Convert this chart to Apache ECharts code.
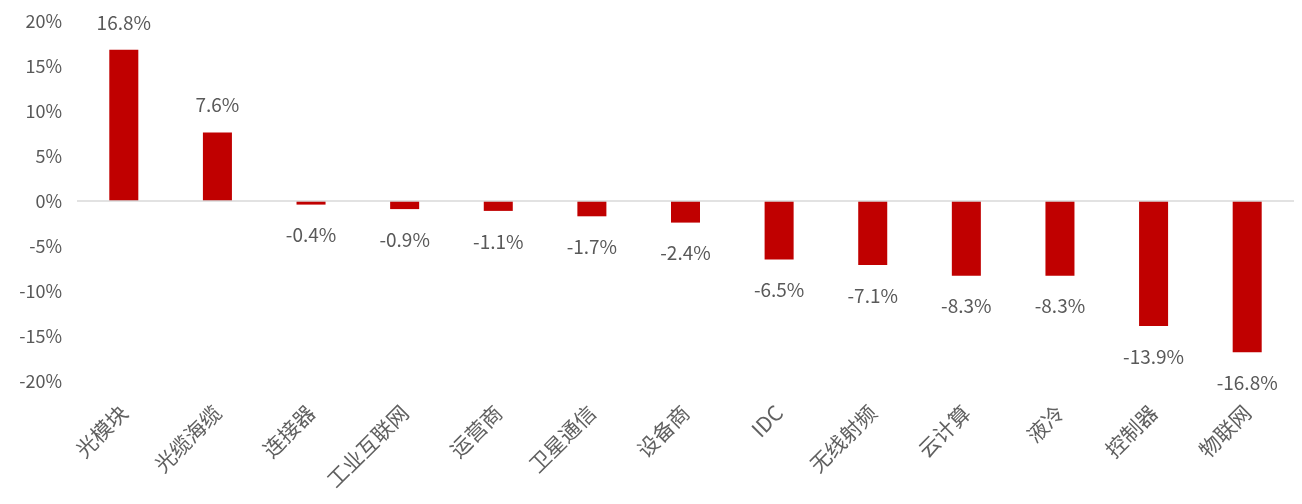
<!DOCTYPE html>
<html>
<head>
<meta charset="utf-8">
<script src="https://cdn.jsdelivr.net/npm/echarts@6/dist/echarts.min.js"></script>
<style>
html,body{margin:0;padding:0;background:#fff;}
#chart{width:1302px;height:504px;}
</style>
</head>
<body>
<div id="chart"></div>
<script>
var categories = ['光模块','光缆海缆','连接器','工业互联网','运营商','卫星通信','设备商','IDC','无线射频','云计算','液冷','控制器','物联网'];
var values = [16.8, 7.6, -0.4, -0.9, -1.1, -1.7, -2.4, -6.5, -7.1, -8.3, -8.3, -13.9, -16.8];
var yTicks = { min: -20, max: 20, interval: 5 };

var FONT = '"Noto Sans CJK SC", "Noto Sans", sans-serif';
var GRAY = '#595959';

var chart = echarts.init(document.getElementById('chart'), null, { renderer: 'canvas' });

var seriesData = values.map(function (v) {
  return {
    value: v,
    label: {
      position: v >= 0 ? 'top' : 'bottom',
      distance: v >= 0 ? 18 : 21
    }
  };
});

chart.setOption({
  animation: false,
  backgroundColor: '#ffffff',
  grid: { left: 77, right: 8, top: 21, bottom: 123, containLabel: false },
  xAxis: {
    type: 'category',
    data: categories,
    axisLine: { show: false, onZero: false },
    axisTick: { show: false },
    splitLine: { show: false },
    axisLabel: {
      rotate: 45,
      margin: 28,
      interval: 0,
      color: '#606060',
      fontSize: 21,
      fontFamily: FONT
    }
  },
  yAxis: {
    type: 'value',
    min: yTicks.min,
    max: yTicks.max,
    interval: yTicks.interval,
    axisLine: { show: false },
    axisTick: { show: false },
    splitLine: { show: false },
    axisLabel: {
      formatter: '{value}%',
      margin: 15,
      color: GRAY,
      fontSize: 18,
      fontFamily: FONT
    }
  },
  series: [{
    type: 'bar',
    data: seriesData,
    barWidth: '31%',
    itemStyle: { color: '#C00000' },
    label: {
      show: true,
      color: GRAY,
      fontSize: 19,
      fontFamily: FONT,
      formatter: function (p) { return p.value.toFixed(1) + '%'; }
    },
    markLine: {
      silent: true,
      symbol: 'none',
      label: { show: false },
      lineStyle: { color: '#d9d9d9', width: 1.5, type: 'solid' },
      data: [{ yAxis: 0 }]
    }
  }]
});
</script>
</body>
</html>
